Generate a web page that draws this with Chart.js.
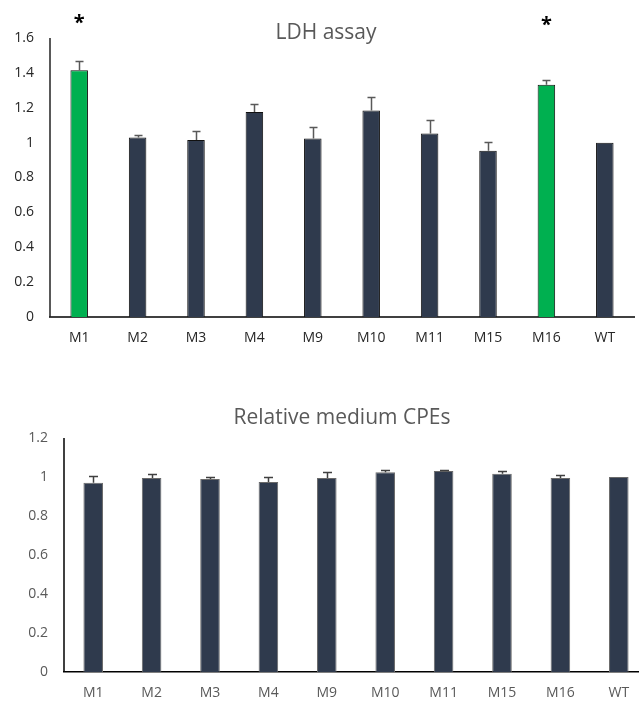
<!DOCTYPE html>
<html>
<head>
<meta charset="utf-8">
<script src="https://cdn.jsdelivr.net/npm/chart.js@4/dist/chart.umd.min.js"></script>
<style>
  html, body { margin: 0; padding: 0; background: #ffffff; overflow: hidden; width: 639px; height: 701px; }
  #top { position: absolute; left: 0; top: 0; width: 639px; height: 350px; }
  #bottom { position: absolute; left: 0; top: 380px; width: 660px; height: 330px; }
</style>
</head>
<body>
<div id="top"><canvas id="c1"></canvas></div>
<div id="bottom"><canvas id="c2"></canvas></div>
<script>
// ---- data ----
const categories = ['M1', 'M2', 'M3', 'M4', 'M9', 'M10', 'M11', 'M15', 'M16', 'WT'];
const ldhValues = [1.415, 1.03, 1.015, 1.176, 1.023, 1.184, 1.053, 0.954, 1.332, 1.0];
const ldhErrors = [0.055, 0.013, 0.054, 0.046, 0.069, 0.077, 0.077, 0.052, 0.029, 0];
const ldhSignificant = [true, false, false, false, false, false, false, false, true, false];
const cpeValues = [0.97, 0.995, 0.99, 0.974, 0.995, 1.024, 1.031, 1.017, 0.995, 1.0];
const cpeErrors = [0.034, 0.02, 0.012, 0.028, 0.03, 0.012, 0.005, 0.012, 0.014, 0];
const ldhTickLabels = ['0', '0.2', '0.4', '0.6', '0.8', '1', '1.2', '1.4', '1.6'];
const cpeTickLabels = ['0', '0.2', '0.4', '0.6', '0.8', '1', '1.2'];
const ldhTitle = 'LDH assay';
const cpeTitle = 'Relative medium CPEs';

const FONT = "'Open Sans', 'DejaVu Sans', sans-serif";
const GREEN = '#00b050';
const DARK = '#2f3a4d';

const extrasPlugin = {
  id: 'extras',
  afterDraw(chart, args, opts) {
    // vertical value-axis line
    const { ctx, chartArea } = chart;
    ctx.save();
    ctx.strokeStyle = opts.axisColor;
    ctx.lineWidth = opts.axisWidth;
    const ax = Math.round(chartArea.left);
    ctx.beginPath();
    ctx.moveTo(ax, chartArea.top);
    ctx.lineTo(ax, chartArea.bottom);
    ctx.stroke();
    ctx.restore();
  },
  afterDatasetsDraw(chart, args, opts) {
    const { ctx, scales: { x, y } } = chart;
    ctx.save();
    // error bars
    ctx.strokeStyle = opts.errColor;
    ctx.lineWidth = opts.errWidth;
    opts.values.forEach((v, i) => {
      const e = opts.errors[i];
      if (!e) return;
      const px = Math.round(x.getPixelForValue(i)) + 0.5;
      const y0 = y.getPixelForValue(v);
      const y1 = Math.round(y.getPixelForValue(v + e)) + 0.5;
      ctx.beginPath();
      ctx.moveTo(px, y0);
      ctx.lineTo(px, y1);
      ctx.moveTo(px - opts.cap / 2, y1);
      ctx.lineTo(px + opts.cap / 2, y1);
      ctx.stroke();
    });
    // significance stars
    if (opts.stars) {
      ctx.fillStyle = '#000';
      ctx.font = "bold 20px " + FONT;
      ctx.textAlign = 'center';
      ctx.textBaseline = 'alphabetic';
      opts.stars.forEach((s, i) => {
        if (!s) return;
        ctx.fillText('*', x.getPixelForValue(i), opts.starY[i]);
      });
    }
    // title
    ctx.fillStyle = '#595959';
    ctx.font = "21px " + FONT;
    ctx.textAlign = 'center';
    ctx.textBaseline = 'middle';
    ctx.fillText(opts.title, opts.titleX, opts.titleY);
    ctx.restore();
  }
};

function makeChart(id, values, errors, colors, borderColor, tickLabels, maxY, yW, xH, pad, barPct, tickColor, xBorder, extras) {
  return new Chart(document.getElementById(id), {
    type: 'bar',
    data: {
      labels: categories,
      datasets: [{
        data: values,
        backgroundColor: colors,
        borderColor: borderColor,
        borderWidth: 1,
        barPercentage: barPct,
        categoryPercentage: 1.0
      }]
    },
    options: {
      responsive: true,
      maintainAspectRatio: false,
      animation: false,
      layout: { padding: pad },
      plugins: {
        legend: { display: false },
        tooltip: { enabled: false },
        title: { display: false },
        extras: extras
      },
      scales: {
        x: {
          grid: { display: false, drawTicks: false },
          border: { display: true, color: xBorder.color, width: xBorder.width },
          ticks: { color: tickColor, font: { family: FONT, size: 14 }, padding: 13, maxRotation: 0 },
          afterFit: s => { s.height = xH; }
        },
        y: {
          min: 0,
          max: maxY,
          grid: { display: false, drawTicks: false },
          border: { display: false },
          ticks: {
            stepSize: 0.2,
            color: tickColor,
            font: { family: FONT, size: 14 },
            padding: 16,
            callback: (val) => tickLabels[Math.round(val / 0.2)]
          },
          afterFit: s => { s.width = yW; }
        }
      }
    },
    plugins: [extrasPlugin]
  });
}

makeChart('c1', ldhValues, ldhErrors,
  ldhSignificant.map(s => s ? GREEN : DARK), '#111111',
  ldhTickLabels, 1.6, 50, 33, { top: 38, right: 5, left: 0, bottom: 0 }, 0.30, '#262626',
  { color: '#404040', width: 2 },
  { values: ldhValues, errors: ldhErrors, errColor: '#595959', errWidth: 1.5, cap: 8,
    axisColor: '#222222', axisWidth: 1.5,
    stars: ldhSignificant, starY: [29, 31, 31, 31, 31, 31, 31, 31, 31, 31],
    title: ldhTitle, titleX: 326, titleY: 33 });

makeChart('c2', cpeValues, cpeErrors,
  cpeValues.map(() => DARK), '#6a6a6a',
  cpeTickLabels, 1.2, 64, 38, { top: 58, right: 12, left: 0, bottom: 0 }, 0.335, '#595959',
  { color: '#000', width: 1.5 },
  { values: cpeValues, errors: cpeErrors, errColor: '#404040', errWidth: 1.5, cap: 9,
    axisColor: '#000', axisWidth: 1.5,
    stars: null, title: cpeTitle, titleX: 342, titleY: 38 });
</script>
</body>
</html>
